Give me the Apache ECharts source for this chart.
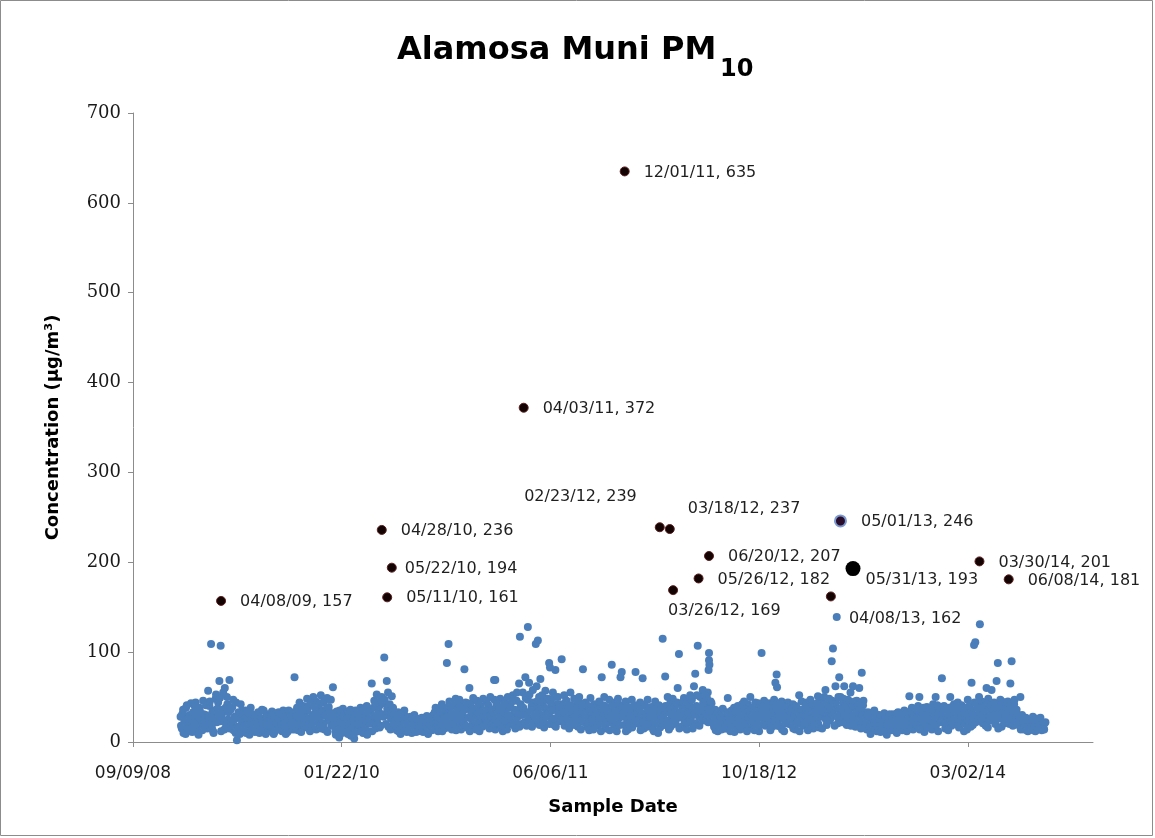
<!DOCTYPE html>
<html>
<head>
<meta charset="utf-8">
<title>Alamosa Muni PM10</title>
<script src="https://cdn.jsdelivr.net/npm/echarts@6/dist/echarts.min.js"></script>
<style>
  html, body { margin: 0; padding: 0; background: #ffffff; }
  #chart { width: 1155px; height: 838px; }
</style>
</head>
<body>
<div id="chart"></div>
<script>
// PM10 concentrations (µg/m³). Each "a" list holds one value every 3 days from January 1;
// each "b" list holds the samples taken one day after those.
const STEP_DAYS = 3;
const pm2009a = [
  28, 15, 36, 22, 9, 41, 19, 30, 12, 25,
  33, 18, 44, 11, 27, 38, 21, 14, 46, 24,
  30, 22, 57, 40, 26, 16, 12, 35, 48, 22,
  44, 68, 23, 31, 55, 14, 38, 50, 25, 69,
  36, 18, 47, 25, 10, 2, 30, 15, 42, 21,
  24, 12, 35, 19, 28, 8, 38, 16, 30, 21,
  14, 27, 33, 10, 22, 36, 17, 25, 9, 31,
  20, 29, 13, 34, 24, 11, 32, 18, 26, 15,
  28, 12, 35, 21, 9, 30, 17, 33, 24, 14,
  26, 72, 18, 38, 13, 44, 29, 22, 40, 16,
  34, 48, 20, 41, 27, 15, 50, 31, 45, 23,
  38, 19, 52, 29, 44, 14, 36, 49, 25, 33, 47, 22
];
const pm2009b = [
  18, 31, 10, 24, 38, 14, 27, 20, 43, 11,
  22, 40, 16, 29, 8, 35, 25, 13, 31, 19,
  41, 15, 28, 45, 20, 33, 10, 26, 53, 37,
  29, 49, 12, 36, 24, 60, 19, 42, 33, 15,
  22, 39, 13, 28, 44, 17, 33, 9, 26, 35,
  16, 29, 10, 33, 21, 26, 13, 31, 18, 11,
  23, 12, 30, 18, 26, 14, 35, 20, 28, 16,
  12, 24, 30, 17, 9, 27, 22, 14, 33, 25,
  19, 31, 14, 26, 22, 11, 35, 16, 28, 20,
  33, 14, 29, 20, 36, 24, 11, 31, 19, 27,
  17, 36, 25, 12, 44, 30, 22, 38, 14, 33,
  26, 43, 15, 35, 21, 47, 30, 11, 39, 24, 18, 29
];
const pm2010a = [
  61, 25, 12, 34, 20, 5, 30, 16, 37, 23,
  18, 32, 9, 27, 36, 14, 24, 4, 35, 21,
  29, 15, 38, 22, 10, 33, 19, 40, 26, 12,
  34, 65, 21, 46, 15, 53, 28, 40, 18, 50,
  43, 94, 30, 68, 55, 32, 14, 51, 38, 22,
  26, 13, 33, 20, 9, 29, 17, 35, 24, 11,
  22, 14, 28, 10, 19, 30, 16, 25, 12, 21,
  15, 27, 11, 23, 18, 29, 9, 24, 20, 13,
  30, 17, 38, 24, 12, 35, 21, 42, 27, 15,
  36, 88, 22, 45, 30, 14, 41, 26, 48, 19,
  33, 47, 20, 39, 28, 81, 44, 16, 37, 60,
  42, 25, 49, 18, 36, 46, 28, 12, 40, 31, 48, 22
];
const pm2010b = [
  19, 32, 8, 26, 14, 35, 22, 10, 29, 17,
  27, 12, 34, 20, 7, 30, 16, 25, 11, 33,
  20, 31, 12, 27, 36, 17, 24, 8, 33, 21,
  25, 12, 38, 29, 44, 22, 35, 16, 47, 31,
  28, 47, 20, 37, 17, 42, 26, 33, 19, 30,
  18, 27, 12, 22, 31, 15, 25, 20, 28, 16,
  13, 24, 19, 27, 15, 22, 11, 26, 18, 24,
  22, 16, 26, 13, 21, 17, 27, 14, 23, 18,
  21, 33, 14, 28, 19, 37, 25, 12, 31, 23,
  27, 16, 39, 24, 33, 20, 44, 31, 13, 35,
  25, 40, 14, 31, 22, 36, 18, 43, 27, 12,
  30, 19, 37, 24, 14, 33, 43, 21, 28, 17, 35, 26
];
const pm2011a = [
  27, 45, 18, 38, 50, 24, 33, 69, 14, 42,
  35, 21, 48, 29, 12, 44, 37, 19, 50, 26,
  40, 23, 52, 31, 15, 46, 28, 65, 38, 20,
  55, 33, 72, 18, 47, 66, 26, 40, 58, 21,
  37, 62, 24, 50, 70, 30, 44, 16, 57, 35,
  48, 88, 27, 41, 55, 19, 80, 36, 50, 23,
  42, 92, 30, 52, 21, 46, 38, 15, 55, 28,
  35, 48, 24, 41, 17, 50, 29, 38, 81, 22,
  44, 27, 36, 13, 49, 31, 20, 42, 26, 38,
  18, 45, 30, 72, 24, 50, 15, 39, 28, 47,
  33, 86, 21, 44, 36, 12, 48, 27, 72, 78,
  40, 19, 45, 30, 14, 38, 25, 47, 22, 35, 78, 29
];
const pm2011b = [
  34, 21, 41, 15, 29, 36, 20, 47, 25, 31,
  22, 39, 28, 16, 33, 24, 42, 14, 30, 38,
  27, 45, 19, 36, 24, 55, 33, 17, 42, 30,
  38, 22, 49, 30, 25, 53, 35, 17, 44, 29,
  26, 45, 33, 19, 40, 52, 23, 38, 29, 47,
  31, 20, 44, 35, 26, 50, 17, 42, 30, 38,
  24, 39, 33, 18, 45, 27, 35, 22, 41, 31,
  27, 19, 36, 31, 45, 23, 14, 33, 26, 42,
  30, 17, 40, 22, 34, 25, 14, 37, 29, 20,
  36, 25, 12, 33, 41, 19, 29, 35, 22, 13,
  26, 40, 30, 17, 35, 23, 42, 19, 31, 37,
  28, 34, 12, 25, 39, 20, 31, 16, 29, 41, 24, 33
];
const pm2012a = [
  36, 20, 44, 28, 71, 15, 40, 25, 47, 31,
  18, 39, 27, 12, 45, 33, 22, 41, 16, 30,
  115, 37, 73, 24, 50, 14, 43, 29, 48, 20,
  35, 26, 60, 98, 42, 17, 38, 49, 23, 31,
  45, 22, 52, 34, 15, 62, 76, 40, 107, 28,
  50, 33, 58, 24, 46, 38, 55, 99, 29, 43,
  30, 17, 36, 22, 12, 34, 25, 14, 37, 20,
  26, 15, 49, 31, 12, 35, 21, 38, 18, 29,
  40, 23, 14, 37, 28, 45, 19, 33, 42, 25,
  50, 16, 38, 27, 44, 21, 35, 12, 41, 99,
  30, 46, 18, 39, 25, 43, 13, 36, 28, 47,
  66, 75, 22, 40, 17, 45, 31, 12, 38, 26, 44, 20
];
const pm2012b = [
  24, 38, 13, 32, 22, 41, 28, 17, 35, 20,
  31, 24, 14, 36, 21, 28, 10, 33, 25, 38,
  28, 19, 40, 33, 23, 36, 17, 31, 22, 39,
  21, 44, 30, 15, 33, 27, 45, 20, 36, 14,
  33, 41, 25, 47, 30, 38, 21, 52, 35, 18,
  38, 26, 44, 52, 31, 49, 22, 36, 45, 30,
  21, 27, 13, 31, 18, 25, 29, 19, 24, 15,
  18, 33, 22, 27, 14, 30, 25, 11, 34, 20,
  27, 33, 18, 42, 22, 30, 36, 12, 28, 35,
  24, 38, 29, 13, 34, 30, 43, 19, 27, 36,
  39, 21, 33, 27, 40, 22, 31, 17, 42, 24,
  32, 18, 36, 28, 43, 14, 26, 34, 21, 40, 29, 35
];
const pm2013a = [
  34, 19, 42, 27, 14, 38, 23, 52, 30, 45,
  18, 36, 25, 44, 13, 31, 47, 21, 39, 28,
  40, 24, 51, 16, 35, 46, 28, 50, 58, 19,
  33, 48, 26, 90, 104, 37, 62, 139, 21, 72,
  50, 28, 44, 62, 35, 19, 47, 31, 55, 24,
  62, 38, 17, 46, 29, 60, 22, 77, 41, 33,
  27, 14, 33, 20, 9, 30, 18, 35, 23, 12,
  21, 30, 11, 25, 16, 32, 19, 8, 28, 15,
  24, 13, 31, 19, 27, 10, 33, 22, 16, 29,
  18, 35, 25, 12, 30, 51, 20, 38, 14, 27,
  33, 22, 40, 50, 17, 29, 36, 11, 25, 39,
  20, 37, 28, 14, 42, 24, 50, 33, 12, 30, 39, 71
];
const pm2013b = [
  26, 37, 15, 31, 40, 21, 33, 12, 28, 36,
  30, 21, 40, 28, 34, 18, 25, 42, 15, 33,
  32, 43, 20, 28, 38, 15, 33, 42, 25, 36,
  41, 24, 36, 46, 30, 18, 43, 28, 50, 35,
  37, 22, 48, 30, 41, 26, 36, 45, 18, 40,
  29, 45, 33, 24, 40, 36, 15, 30, 46, 26,
  20, 30, 24, 16, 28, 13, 26, 21, 31, 17,
  13, 25, 20, 29, 12, 23, 26, 18, 22, 31,
  19, 28, 23, 14, 25, 32, 17, 27, 21, 13,
  29, 21, 33, 17, 27, 23, 15, 31, 26, 20,
  19, 36, 28, 14, 32, 25, 38, 22, 30, 16,
  33, 25, 16, 37, 22, 30, 19, 41, 27, 35, 22, 29
];
const pm2014a = [
  26, 40, 15, 33, 21, 38, 50, 18, 29, 42,
  35, 22, 44, 16, 31, 41, 25, 12, 38, 28,
  47, 24, 36, 66, 19, 108, 111, 43, 30, 50,
  33, 45, 21, 39, 27, 60, 16, 41, 36, 58,
  29, 44, 20, 68, 88, 35, 47, 17, 40, 26,
  38, 22, 45, 31, 65, 90, 18, 42, 27, 36,
  28, 20, 50, 24, 17, 14, 26, 19, 12, 22,
  24, 15, 28, 19, 12, 26, 21, 16, 27, 13,
  20, 14, 22
];
const pm2014b = [
  33, 22, 36, 28, 13, 31, 24, 39, 21, 30,
  26, 40, 19, 33, 24, 29, 37, 21, 32, 14,
  31, 40, 17, 35, 28, 44, 22, 38, 26, 33,
  26, 38, 30, 44, 18, 33, 48, 24, 29, 41,
  37, 23, 42, 30, 15, 39, 26, 45, 32, 21,
  29, 44, 35, 20, 38, 26, 33, 47, 22, 31,
  19, 25, 14, 30, 21, 17, 27, 13, 24, 18,
  17, 22, 13, 20, 25, 14, 18, 23, 15, 19,
  16, 21
];
// [two-digit year, day offset from January 1, values]
const sampleRuns = [
  ['09', 0, pm2009a], ['09', 1, pm2009b],
  ['10', 0, pm2010a], ['10', 1, pm2010b],
  ['11', 0, pm2011a], ['11', 1, pm2011b],
  ['12', 0, pm2012a], ['12', 1, pm2012b],
  ['13', 0, pm2013a], ['13', 1, pm2013b],
  ['14', 0, pm2014a], ['14', 1, pm2014b]
];

// Further samples that fall between the regular runs
const extraDates = ['03/15/09', '04/07/09', '10/05/10', '01/25/11', '03/25/11', '04/13/11', '05/02/11',
                    '05/07/11', '06/05/11', '06/19/12', '06/20/12', '06/21/12', '11/30/12', '03/31/14'];
const extraValues = [109, 107, 109, 69, 117, 128, 109, 113, 83, 80, 91, 86, 61, 131];

// High-concentration days, labelled on the chart
const eventDates = ['04/08/09', '04/28/10', '05/11/10', '05/22/10', '04/03/11', '12/01/11', '02/23/12', '03/18/12',
                    '03/26/12', '05/26/12', '06/20/12', '04/08/13', '05/01/13', '05/31/13', '03/30/14', '06/08/14'];
const eventValues = [157, 236, 161, 194, 372, 635, 239, 237, 169, 182, 207, 162, 246, 193, 201, 181];

// Axis ticks
const xTickDates = ['09/09/08', '01/22/10', '06/06/11', '10/18/12', '03/02/14'];
const xAxisEnd = '12/27/14';
const yTicks = [0, 100, 200, 300, 400, 500, 600, 700];

// MM/DD/YY -> spreadsheet day number
function daySerial(s) {
  const [m, d, y] = s.split('/').map(Number);
  return Date.UTC(2000 + y, m - 1, d) / 86400000 + 25569;
}

const baseData = [];
sampleRuns.forEach(([yy, shift, vals]) => {
  const start = daySerial('01/01/' + yy) + shift;
  vals.forEach((v, i) => baseData.push([start + i * STEP_DAYS, v]));
});
extraDates.forEach((d, i) => baseData.push([daySerial(d), extraValues[i]]));

// Where each event label sits relative to its marker
const labelSide = {
  '02/23/12': { position: 'left', distance: 18 },
  '05/31/13': { distance: 6 }
};
const labelShift = {
  '05/22/10': [-6, 1],
  '02/23/12': [0, -30],
  '03/18/12': [-1, -20],
  '03/26/12': [-24, 21],
  '04/08/13': [-1, 22],
  '05/31/13': [-1, 11]
};
const markerStyle = {
  '05/01/13': { symbolSize: 11, itemStyle: { color: '#2a0d2a', borderColor: '#7b98cf', borderWidth: 2 } },
  '05/31/13': { symbolSize: 15, itemStyle: { color: '#000000', borderColor: '#000000', borderWidth: 0 } }
};

const eventData = eventDates.map((d, i) => {
  const item = {
    value: [daySerial(d), eventValues[i]],
    label: Object.assign({ position: 'right', distance: 14 }, labelSide[d] || {}),
    dateText: d
  };
  if (markerStyle[d]) Object.assign(item, markerStyle[d]);
  return item;
});

const xTickValues = xTickDates.map(daySerial);

const chart = echarts.init(document.getElementById('chart'), null, { renderer: 'canvas' });
chart.setOption({
  animation: false,
  backgroundColor: '#ffffff',
  grid: { left: 133, right: 62, top: 113, bottom: 96 },
  graphic: [
    { type: 'rect', silent: true, shape: { x: 0.5, y: 0.5, width: 1152, height: 835 },
      style: { fill: 'none', stroke: '#8c8c8c', lineWidth: 1 } },
    { type: 'text', left: 397, top: 35,
      style: { text: 'Alamosa Muni PM', font: 'bold 32px "DejaVu Sans"', fill: '#000000' } },
    { type: 'text', left: 720, top: 58,
      style: { text: '10', font: 'bold 24px "DejaVu Sans"', fill: '#000000' } }
  ],
  xAxis: {
    type: 'value',
    min: xTickValues[0],
    max: daySerial(xAxisEnd),
    name: 'Sample Date',
    nameLocation: 'middle',
    nameGap: 56,
    nameTextStyle: { fontFamily: 'DejaVu Sans', fontWeight: 'bold', fontSize: 18, color: '#000000' },
    splitLine: { show: false },
    axisLine: { lineStyle: { color: '#8c8c8c', width: 1 } },
    axisTick: { show: true, length: 5, customValues: xTickValues, lineStyle: { color: '#8c8c8c' } },
    axisLabel: {
      customValues: xTickValues,
      margin: 23,
      fontFamily: 'DejaVu Sans',
      fontSize: 17,
      color: '#1a1a1a',
      formatter: v => xTickDates[xTickValues.indexOf(v)] || ''
    }
  },
  yAxis: {
    type: 'value',
    min: yTicks[0],
    max: yTicks[yTicks.length - 1],
    interval: yTicks[1] - yTicks[0],
    name: 'Concentration (µg/m³)',
    nameLocation: 'middle',
    nameGap: 71,
    nameRotate: 90,
    nameTextStyle: { fontFamily: 'DejaVu Sans', fontWeight: 'bold', fontSize: 18, color: '#000000' },
    splitLine: { show: false },
    axisLine: { show: true, lineStyle: { color: '#8c8c8c', width: 1 } },
    axisTick: { show: true, length: 5, lineStyle: { color: '#8c8c8c' } },
    axisLabel: { margin: 12, fontFamily: 'DejaVu Serif', fontSize: 18, color: '#1a1a1a' }
  },
  series: [
    {
      name: 'PM10',
      type: 'scatter',
      data: baseData,
      symbol: 'circle',
      symbolSize: 8,
      itemStyle: { color: '#4a7ebb', opacity: 1 },
      silent: true
    },
    {
      name: 'High days',
      type: 'scatter',
      data: eventData,
      symbol: 'circle',
      symbolSize: 9,
      itemStyle: { color: '#140303', borderColor: '#5a1f1f', borderWidth: 1, opacity: 1 },
      label: {
        show: true,
        fontFamily: 'DejaVu Sans',
        fontSize: 16,
        color: '#1f1f1f',
        formatter: p => p.data.dateText + ', ' + p.data.value[1]
      },
      labelLayout: params => {
        const shift = labelShift[eventDates[params.dataIndex]] || [0, 1];
        return { dx: shift[0], dy: shift[1], hideOverlap: false };
      },
      silent: true,
      z: 3
    }
  ]
});
</script>
</body>
</html>
